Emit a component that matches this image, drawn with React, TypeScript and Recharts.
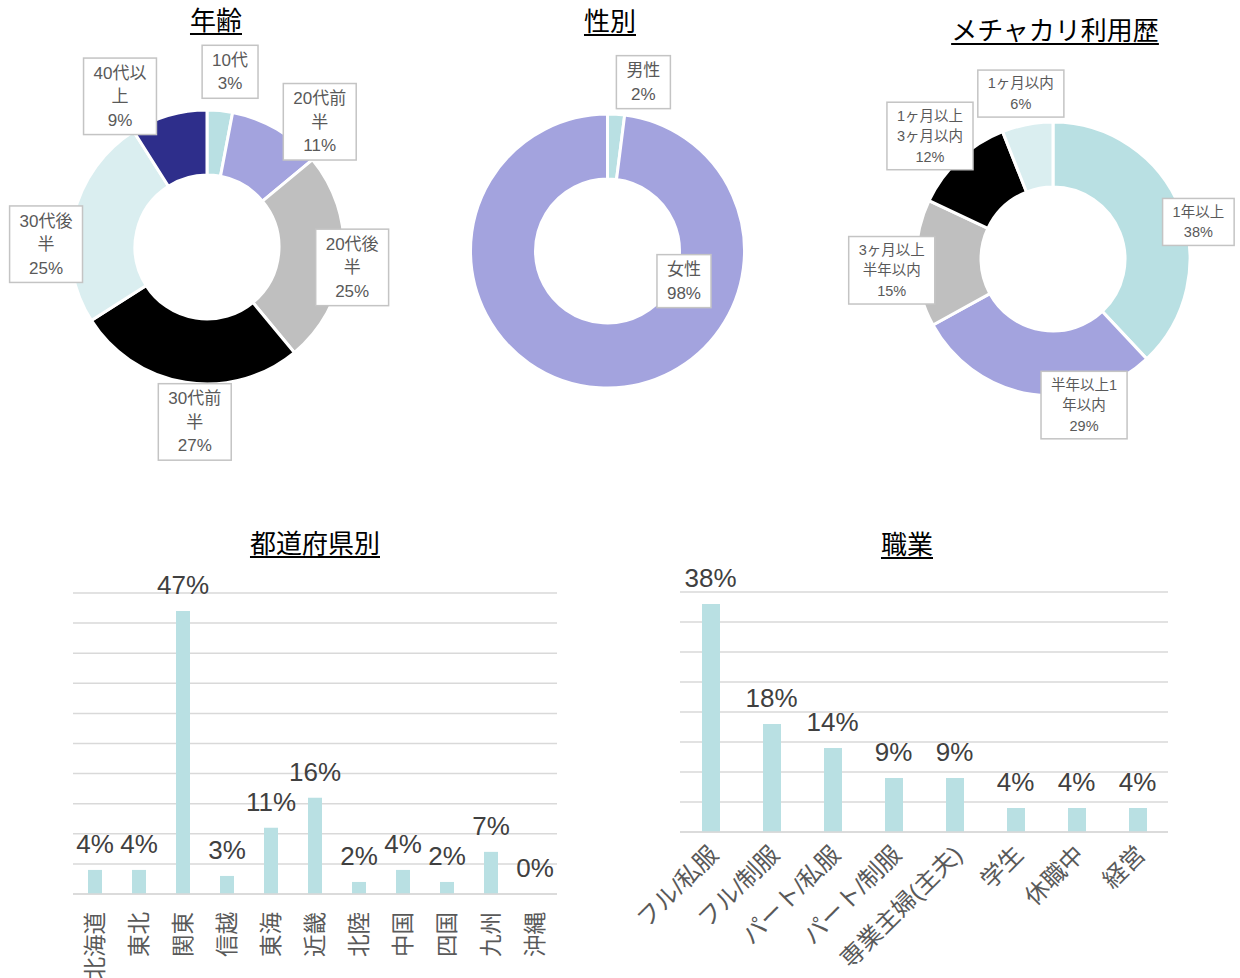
import { PieChart, Pie, Cell, ComposedChart, Bar, Line, XAxis, YAxis, CartesianGrid, LabelList } from 'recharts';

const FONT = '"Liberation Sans", "Noto Sans CJK JP", sans-serif';

const TEAL = '#b9e0e3';
const LAVENDER = '#a3a3de';
const GRAY = '#bfbfbf';
const BLACK = '#000000';
const PALE_TEAL = '#daeef0';
const NAVY = '#2e2e8b';
const GRID = '#d9d9d9';
const LABEL_TEXT = '#595959';
const VALUE_TEXT = '#404040';

// 年齢
const AGE_NAMES = ['10代', '20代前半', '20代後半', '30代前半', '30代後半', '40代以上'];
const AGE_VALUES = [3, 11, 25, 27, 25, 9];
const AGE_COLORS = [TEAL, LAVENDER, GRAY, BLACK, PALE_TEAL, NAVY];

// 性別
const GENDER_NAMES = ['男性', '女性'];
const GENDER_VALUES = [2, 98];
const GENDER_COLORS = [TEAL, LAVENDER];

// メチャカリ利用歴
const HISTORY_NAMES = ['1年以上', '半年以上1年以内', '3ヶ月以上半年以内', '1ヶ月以上3ヶ月以内', '1ヶ月以内'];
const HISTORY_VALUES = [38, 29, 15, 12, 6];
const HISTORY_COLORS = [TEAL, LAVENDER, GRAY, BLACK, PALE_TEAL];

// 都道府県別
const REGIONS = ['北海道', '東北', '関東', '信越', '東海', '近畿', '北陸', '中国', '四国', '九州', '沖縄'];
const REGION_VALUES = [4, 4, 47, 3, 11, 16, 2, 4, 2, 7, 0];
const REGION_TICKS = [0, 5, 10, 15, 20, 25, 30, 35, 40, 45, 50];

// 職業
const JOBS = ['フル/私服', 'フル/制服', 'パート/私服', 'パート/制服', '専業主婦(主夫)', '学生', '休職中', '経営'];
const JOB_VALUES = [38, 18, 14, 9, 9, 4, 4, 4];
const JOB_TICKS = [0, 5, 10, 15, 20, 25, 30, 35, 40];

// label placement (compass degrees clockwise from 12 o'clock, distance as share of outer radius)
const AGE_SPOTS = [[7.5, 1.29], [42, 1.23], [98, 1.07], [184, 1.28], [271, 1.175], [330, 1.27]];
const GENDER_SPOTS = [[12, 1.26], [111.5, 0.6]];
const HISTORY_SPOTS = [[75.7, 1.095], [168, 1.09], [266, 1.18], [315, 1.27], [349, 1.23]];

function textWidth(s: string, fs: number) {
  let w = 0;
  for (const ch of s) {
    if (/[0-9]/.test(ch)) w += 0.556;
    else if (ch === '%') w += 0.889;
    else w += 1;
  }
  return w * fs;
}

function wrapText(s: string, fs: number, maxW: number) {
  const lines: string[] = [];
  let cur = '';
  for (const ch of s) {
    if (cur && textWidth(cur + ch, fs) > maxW) {
      lines.push(cur);
      cur = ch;
    } else {
      cur += ch;
    }
  }
  if (cur) lines.push(cur);
  return lines;
}

function makePieLabel(
  names: string[],
  values: number[],
  spots: number[][],
  fs: number,
  lh: number,
  maxW: number,
) {
  return (props: any) => {
    const { cx, cy, outerRadius, index } = props;
    const [ang, k] = spots[index];
    const rad = (ang * Math.PI) / 180;
    const x = cx + outerRadius * k * Math.sin(rad);
    const y = cy - outerRadius * k * Math.cos(rad);
    const lines = [...wrapText(names[index], fs, maxW), `${values[index]}%`];
    const w = Math.max(...lines.map((l) => textWidth(l, fs))) + 20;
    const h = lines.length * lh + 6;
    return (
      <g key={`lbl-${index}`}>
        <rect x={x - w / 2} y={y - h / 2} width={w} height={h} fill="#fff" stroke="#c4c4c4" strokeWidth={1.5} />
        {lines.map((l, i) => (
          <text
            key={i}
            x={x}
            y={y - h / 2 + 3 + lh * (i + 0.5)}
            dy="0.35em"
            textAnchor="middle"
            fontSize={fs}
            fontFamily={FONT}
            fill={LABEL_TEXT}
          >
            {l}
          </text>
        ))}
      </g>
    );
  };
}

function Title({ text, x, y }: { text: string; x: number; y: number }) {
  return (
    <div
      style={{
        position: 'absolute',
        left: x - 200,
        top: y - 15,
        width: 400,
        textAlign: 'center',
        fontSize: '26px',
        lineHeight: '30px',
        fontFamily: FONT,
        color: '#000',
        zIndex: 2,
      }}
    >
      <span style={{ textDecoration: 'underline', textDecorationThickness: '1.5px', textUnderlineOffset: '3px' }}>
        {text}
      </span>
    </div>
  );
}

type DonutProps = {
  names: string[];
  values: number[];
  colors: string[];
  spots: number[][];
  left: number;
  cx: number;
  cy: number;
  fs: number;
  lh: number;
  maxW: number;
};

function Donut({ names, values, colors, spots, left, cx, cy, fs, lh, maxW }: DonutProps) {
  const data = names.map((n, i) => ({ name: n, value: values[i] }));
  return (
    <div style={{ position: 'absolute', left, top: 0 }}>
      <PieChart width={410} height={480} margin={{ top: 0, right: 0, bottom: 0, left: 0 }}>
        <Pie
          data={data}
          dataKey="value"
          nameKey="name"
          cx={cx}
          cy={cy}
          innerRadius={72}
          outerRadius={137}
          startAngle={90}
          endAngle={-270}
          stroke="#fff"
          strokeWidth={3}
          labelLine={false}
          label={makePieLabel(names, values, spots, fs, lh, maxW)}
          isAnimationActive={false}
        >
          {data.map((d, i) => (
            <Cell key={i} fill={colors[i]} />
          ))}
        </Pie>
      </PieChart>
    </div>
  );
}

// value labels ride on an invisible line so that a 0% bar still gets one
function pointValueLabel(gap: number) {
  return (p: any) => {
    const x = Number(p.x);
    const y = Number(p.y) - gap;
    return (
      <text x={x} y={y} textAnchor="middle" fontSize={26} fontFamily={FONT} fill={VALUE_TEXT}>
        {p.value}%
      </text>
    );
  };
}

function VerticalTick(props: any) {
  const { x, y, payload } = props;
  const ty = y + 10;
  return (
    <text
      x={x}
      y={ty}
      transform={`rotate(-90 ${x} ${ty})`}
      textAnchor="end"
      dy="0.36em"
      fontSize={22.5}
      fontFamily={FONT}
      fill={LABEL_TEXT}
    >
      {payload.value}
    </text>
  );
}

function SlantTick(props: any) {
  const { x, y, payload } = props;
  const tx = x + 3;
  const ty = y + 10;
  return (
    <text
      x={tx}
      y={ty}
      transform={`rotate(-45 ${tx} ${ty})`}
      textAnchor="end"
      dy="0.36em"
      fontSize={24}
      fontFamily={FONT}
      fill={LABEL_TEXT}
    >
      {payload.value}
    </text>
  );
}

export default function App() {
  const regionData = REGIONS.map((n, i) => ({ name: n, value: REGION_VALUES[i] }));
  const jobData = JOBS.map((n, i) => ({ name: n, value: JOB_VALUES[i] }));

  return (
    <div
      style={{
        position: 'absolute',
        left: 0,
        top: 0,
        width: 1240,
        height: 978,
        background: '#fff',
        overflow: 'hidden',
        fontFamily: FONT,
      }}
    >
      {/* Donuts */}
      <Donut
        names={AGE_NAMES}
        values={AGE_VALUES}
        colors={AGE_COLORS}
        spots={AGE_SPOTS}
        left={0}
        cx={207}
        cy={247}
        fs={17}
        lh={23.5}
        maxW={54}
      />
      <Donut
        names={GENDER_NAMES}
        values={GENDER_VALUES}
        colors={GENDER_COLORS}
        spots={GENDER_SPOTS}
        left={410}
        cx={197.5}
        cy={251}
        fs={17}
        lh={23.5}
        maxW={54}
      />
      <Donut
        names={HISTORY_NAMES}
        values={HISTORY_VALUES}
        colors={HISTORY_COLORS}
        spots={HISTORY_SPOTS}
        left={830}
        cx={223}
        cy={259}
        fs={14.5}
        lh={20.5}
        maxW={68}
      />

      {/* 都道府県別 */}
      <div style={{ position: 'absolute', left: 60, top: 560 }}>
        <ComposedChart width={510} height={418} data={regionData} margin={{ top: 33, right: 13, left: 13, bottom: 0 }}>
          <CartesianGrid vertical={false} stroke={GRID} strokeWidth={1.5} />
          <XAxis
            dataKey="name"
            interval={0}
            height={84}
            tickLine={false}
            axisLine={{ stroke: GRID, strokeWidth: 1.5 }}
            tick={<VerticalTick />}
          />
          <YAxis domain={[0, 50]} ticks={REGION_TICKS} hide />
          <Bar dataKey="value" fill={TEAL} barSize={14} isAnimationActive={false} />
          <Line dataKey="value" stroke="none" dot={false} activeDot={false} isAnimationActive={false}>
            <LabelList dataKey="value" content={pointValueLabel(17)} />
          </Line>
        </ComposedChart>
      </div>

      {/* 職業 */}
      <div style={{ position: 'absolute', left: 600, top: 560 }}>
        <ComposedChart width={590} height={418} data={jobData} margin={{ top: 32, right: 22, left: 80, bottom: 0 }}>
          <CartesianGrid vertical={false} stroke={GRID} strokeWidth={1.5} />
          <XAxis
            dataKey="name"
            interval={0}
            height={146}
            tickLine={false}
            axisLine={{ stroke: GRID, strokeWidth: 1.5 }}
            tick={<SlantTick />}
          />
          <YAxis domain={[0, 40]} ticks={JOB_TICKS} hide />
          <Bar dataKey="value" fill={TEAL} barSize={18} isAnimationActive={false} />
          <Line dataKey="value" stroke="none" dot={false} activeDot={false} isAnimationActive={false}>
            <LabelList dataKey="value" content={pointValueLabel(17)} />
          </Line>
        </ComposedChart>
      </div>

      <Title text="年齢" x={216} y={21} />
      <Title text="性別" x={610} y={22} />
      <Title text="メチャカリ利用歴" x={1055} y={31} />
      <Title text="都道府県別" x={315} y={544} />
      <Title text="職業" x={907} y={545} />
    </div>
  );
}
